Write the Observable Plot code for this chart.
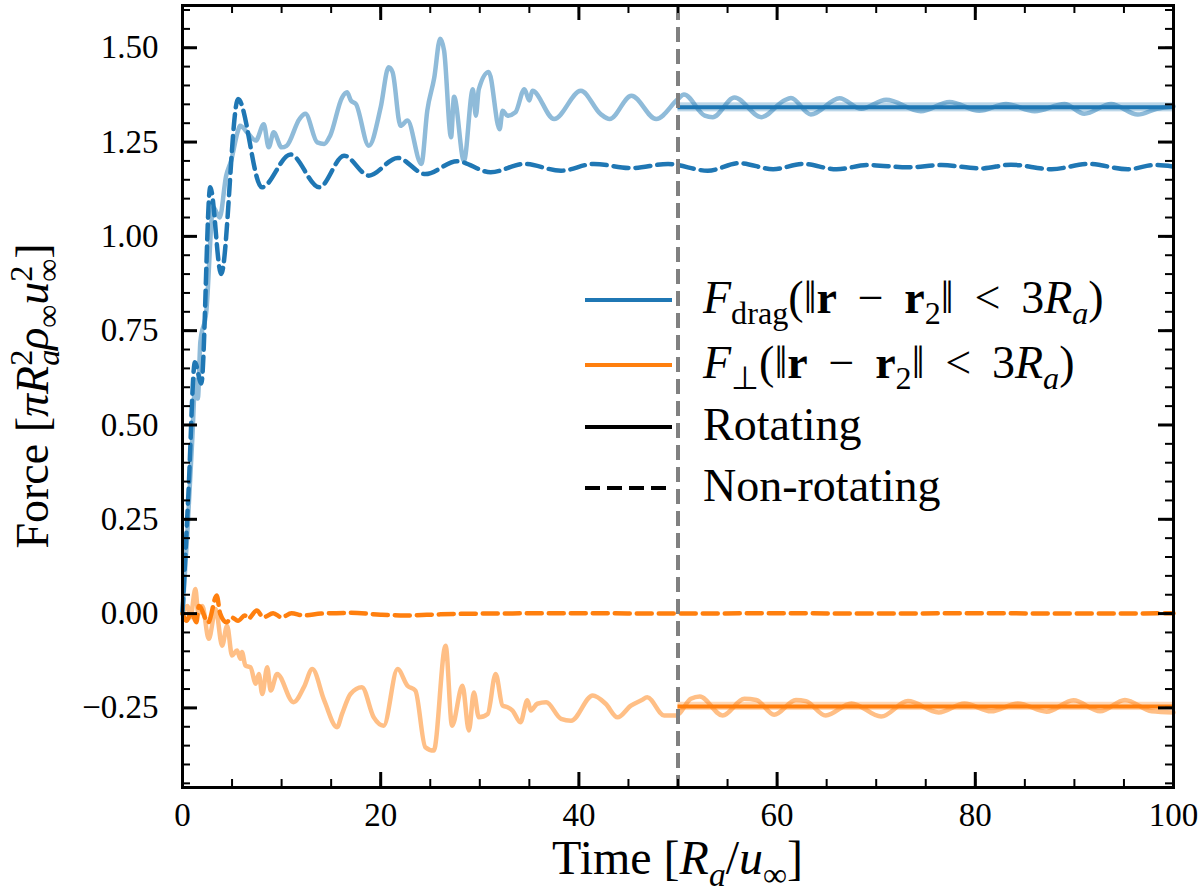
<!DOCTYPE html>
<html><head><meta charset="utf-8">
<script src="https://cdn.jsdelivr.net/npm/d3@7"></script>
<script src="https://cdn.jsdelivr.net/npm/@observablehq/plot@0.6"></script>
<style>body{margin:0;background:#fff;}</style>
</head><body><div id="chart"></div>
<script>
// ---------- data ----------
const xMajor = [0, 20, 40, 60, 80, 100];
const yMajor = [-0.25, 0.00, 0.25, 0.50, 0.75, 1.00, 1.25, 1.50];
const xDomain = [0, 100];
const yDomain = [-0.461, 1.612];
const splitTime = [50];

// Rotating, drag force (light blue solid)
const rotatingDrag = [[0,0],[0.5,0.22],[1.0,0.47],[1.3,0.62],[1.55,0.57],[1.8,0.72],[2.4,0.80],[3.1,1.077],[3.75,1.05],[4.4,1.16],[4.9,1.20],[5.6,1.28],[5.8,1.293],[6.7,1.27],[7.4,1.254],[8.2,1.297],[8.7,1.236],[9.2,1.276],[10.0,1.236],[10.5,1.24],[11.8,1.311],[12.4,1.325],[13.6,1.249],[14.3,1.245],[14.9,1.267],[16.1,1.368],[16.6,1.382],[17.0,1.36],[17.5,1.351],[18.8,1.24],[20.0,1.342],[20.8,1.448],[21.2,1.435],[22.0,1.293],[22.7,1.307],[24.1,1.192],[24.7,1.333],[25.4,1.42],[26.0,1.524],[26.4,1.492],[27.1,1.263],[27.4,1.37],[28.4,1.20],[29.3,1.39],[29.6,1.32],[29.9,1.39],[30.9,1.436],[32.0,1.284],[32.3,1.333],[32.8,1.32],[33.6,1.329],[34.5,1.39],[35.0,1.36],[35.3,1.386],[37.5,1.311],[40.2,1.386],[42.2,1.324],[43.1,1.311],[45.3,1.373],[47.8,1.311],[50.0,1.364],[50.6,1.376],[52.7,1.32],[53.5,1.316],[55.7,1.368],[58.4,1.316],[60.7,1.36],[61.4,1.367],[63.4,1.323],[66.3,1.366],[68.5,1.338],[71.0,1.362],[74.5,1.332],[77.4,1.356],[80.4,1.333],[83.1,1.351],[86.0,1.332],[89.0,1.351],[91.0,1.325],[93.7,1.351],[96.4,1.323],[98.3,1.338],[100,1.345]];

// Non-rotating, drag force (dark blue dashed)
const nonRotatingDrag = [[0,0],[0.6,0.32],[1.25,0.666],[1.9,0.61],[2.8,1.13],[3.9,0.90],[5.6,1.364],[8.0,1.13],[10.9,1.217],[13.8,1.13],[16.3,1.214],[18.8,1.161],[21.7,1.208],[24.5,1.165],[27.7,1.199],[31.1,1.170],[34.5,1.192],[38.2,1.174],[41.5,1.192],[45.3,1.181],[49.0,1.192],[53.0,1.174],[56.2,1.194],[59.6,1.178],[62.6,1.192],[66.0,1.178],[69.2,1.189],[73.2,1.183],[76.6,1.189],[80.6,1.18],[83.6,1.19],[87.7,1.178],[91.4,1.192],[95.4,1.178],[98.1,1.189],[100,1.185]];

// Rotating, perpendicular force (light orange solid)
const rotatingPerp = [[0,0],[0.5,0.02],[0.8,-0.01],[1.3,0.065],[1.6,0],[2.0,0.02],[2.65,-0.067],[3.35,0.012],[4.0,-0.085],[4.5,-0.032],[5.0,-0.111],[5.5,-0.098],[5.85,-0.12],[6.0,-0.102],[6.35,-0.138],[6.85,-0.142],[7.4,-0.186],[7.7,-0.16],[8.05,-0.213],[8.55,-0.142],[8.9,-0.204],[9.55,-0.16],[11.2,-0.235],[12.25,-0.195],[13.1,-0.147],[14.3,-0.23],[15.6,-0.301],[16.1,-0.266],[16.95,-0.213],[18.1,-0.195],[19.3,-0.275],[20.3,-0.297],[21.7,-0.147],[22.7,-0.191],[23.5,-0.204],[24.5,-0.354],[25.35,-0.363],[26.55,-0.085],[27.2,-0.297],[28.25,-0.191],[28.9,-0.31],[29.4,-0.209],[29.9,-0.275],[30.8,-0.266],[31.6,-0.16],[32.3,-0.244],[32.8,-0.248],[33.3,-0.257],[34.1,-0.288],[34.8,-0.23],[35.15,-0.257],[35.8,-0.239],[36.7,-0.235],[38.2,-0.279],[39.2,-0.284],[41.4,-0.217],[42.7,-0.239],[43.9,-0.275],[45.25,-0.244],[46.3,-0.23],[46.9,-0.222],[48.6,-0.27],[49.8,-0.27],[51.3,-0.226],[52.2,-0.22],[54.5,-0.27],[56.7,-0.226],[57.9,-0.229],[59.7,-0.268],[61.9,-0.229],[62.9,-0.232],[64.9,-0.27],[67.5,-0.238],[70.5,-0.273],[73.2,-0.232],[76.3,-0.262],[78.9,-0.238],[81.6,-0.259],[84.3,-0.238],[87.2,-0.26],[89.9,-0.23],[92.6,-0.259],[95.1,-0.229],[97.8,-0.259],[100,-0.262]];

// Non-rotating, perpendicular force (orange dashed)
const nonRotatingPerp = [[0,0],[0.4,-0.019],[0.9,0.003],[1.4,-0.023],[1.65,0.02],[2.6,-0.023],[3.45,0.048],[3.8,0],[4.45,-0.023],[4.95,-0.01],[5.6,-0.019],[6.3,-0.005],[6.6,-0.014],[7.5,0.008],[8.15,-0.01],[9.15,0.001],[10.0,-0.01],[11.0,0.001],[12.2,-0.005],[14,0.0],[17,0.002],[20,-0.003],[22.5,-0.005],[26,-0.002],[30,0],[40,0.001],[50,0],[60,0.001],[70,0],[80,0.001],[90,0],[100,0.001]];

// Rotating averages after t = 50 (mean +/- spread)
const rotatingMeans = [
  {series: "drag", t0: 50, t1: 100, mean: 1.342, sd: 0.012},
  {series: "perp", t0: 50, t1: 100, mean: -0.246, sd: 0.011}
];

// ---------- styling ----------
const BLUE = "#1f77b4", LBLUE = "#8fbbd9", ORANGE = "#ff7f0e", LORANGE = "#ffbf86", GREY = "#808080";
const FONT = "'Liberation Serif', 'Times New Roman', serif";
const W = 1200, H = 894, mL = 182, mR = 27, mT = 5, mB = 107;
const plotW = W - mL - mR, plotH = H - mT - mB;
const xMinor = d3.range(0, 101, 5);
const yMinor = d3.range(-45, 161, 5).map(d => d / 100);
const obj = a => a.map(([t, v]) => ({t, v}));
const meanColor = {drag: BLUE, perp: ORANGE};
const DASH = "15,7";

const chart = Plot.plot({
  width: W, height: H,
  marginLeft: mL, marginRight: mR, marginTop: mT, marginBottom: mB,
  style: {fontFamily: FONT, fontSize: "33px", background: "white", color: "black", overflow: "visible"},
  x: {domain: xDomain, axis: null},
  y: {domain: yDomain, axis: null},
  marks: [
    Plot.line(obj(rotatingDrag), {x: "t", y: "v", stroke: LBLUE, strokeWidth: 4.5, curve: "monotone-x"}),
    Plot.line(obj(rotatingPerp), {x: "t", y: "v", stroke: LORANGE, strokeWidth: 4.5, curve: "monotone-x"}),
    Plot.line(obj(nonRotatingDrag), {x: "t", y: "v", stroke: BLUE, strokeWidth: 4.5, strokeDasharray: DASH, curve: "monotone-x"}),
    Plot.line(obj(nonRotatingPerp), {x: "t", y: "v", stroke: ORANGE, strokeWidth: 4.5, strokeDasharray: DASH, curve: "monotone-x"}),
    Plot.rect(rotatingMeans, {x1: "t0", x2: "t1", y1: d => d.mean - d.sd, y2: d => d.mean + d.sd, fill: d => meanColor[d.series], fillOpacity: 0.3}),
    Plot.ruleY(rotatingMeans, {y: "mean", x1: "t0", x2: "t1", stroke: d => meanColor[d.series], strokeWidth: 4}),
    Plot.ruleX(splitTime, {x: d => d, stroke: GREY, strokeWidth: 4, strokeDasharray: DASH}),
    // inward ticks on all four sides
    Plot.tickX(xMinor, {x: d => d, insetTop: plotH - 8, stroke: "black", strokeWidth: 2}),
    Plot.tickX(xMinor, {x: d => d, insetBottom: plotH - 8, stroke: "black", strokeWidth: 2}),
    Plot.tickY(yMinor, {y: d => d, insetRight: plotW - 8, stroke: "black", strokeWidth: 2}),
    Plot.tickY(yMinor, {y: d => d, insetLeft: plotW - 8, stroke: "black", strokeWidth: 2}),
    Plot.tickX(xMajor, {x: d => d, insetTop: plotH - 15, stroke: "black", strokeWidth: 3}),
    Plot.tickX(xMajor, {x: d => d, insetBottom: plotH - 15, stroke: "black", strokeWidth: 3}),
    Plot.tickY(yMajor, {y: d => d, insetRight: plotW - 15, stroke: "black", strokeWidth: 3}),
    Plot.tickY(yMajor, {y: d => d, insetLeft: plotW - 15, stroke: "black", strokeWidth: 3}),
    Plot.axisX(xMajor, {tickSize: 0, tickPadding: 15, tickFormat: d => String(d), fontSize: 33}),
    Plot.axisY(yMajor, {tickSize: 0, tickPadding: 24, tickFormat: d3.format(".2f"), fontSize: 33}),
    Plot.frame({stroke: "black", strokeWidth: 3})
  ]
});
document.getElementById("chart").appendChild(chart);

// ---------- rich text (axis labels and legend) ----------
const svg = d3.select(chart);
function rich(sel, parts, size) {
  let cur = 0;
  for (const p of parts) {
    const small = p.sub || p.sup;
    const target = p.sub ? 0.24 * size : p.sup ? -0.34 * size : 0;
    const ts = sel.append("tspan").text(p.t);
    if (target !== cur) ts.attr("dy", target - cur);
    cur = target;
    if (small) ts.attr("font-size", size * 0.7);
    if (p.back) ts.attr("dx", -p.back * size * 0.7);
    if (p.it) ts.attr("font-style", "italic");
    if (p.b) ts.attr("font-weight", "bold");
  }
}
const LS = 46;
const SP = "\u2009";   // thin space used for math-style operator spacing
// x label
const xl = svg.append("text").attr("font-family", FONT).attr("font-size", 48)
  .attr("text-anchor", "middle").attr("x", mL + plotW / 2).attr("y", 874).style("white-space", "pre");
rich(xl, [{t: "Time ["}, {t: "R", it: 1}, {t: "a", sub: 1, it: 1}, {t: "/"}, {t: "u", it: 1}, {t: "∞", sub: 1}, {t: "]"}], 48);
// y label
const yl = svg.append("text").attr("font-family", FONT).attr("font-size", LS)
  .attr("text-anchor", "middle").attr("transform", `translate(48,${mT + plotH / 2}) rotate(-90)`).style("white-space", "pre");
rich(yl, [{t: "Force ["}, {t: "πR", it: 1}, {t: "2", sup: 1}, {t: "a", sub: 1, it: 1, back: 0.5}, {t: "ρ", it: 1}, {t: "∞", sub: 1}, {t: "u", it: 1}, {t: "2", sup: 1}, {t: "∞", sub: 1, back: 0.5}, {t: "]"}], LS);

// legend
const legend = [
  {y: 300, color: BLUE, dash: null, parts: [{t: "F", it: 1}, {t: "drag", sub: 1}, {t: "(‖"}, {t: "r", b: 1}, {t: SP + " − " + SP}, {t: "r", b: 1}, {t: "2", sub: 1}, {t: "‖" + SP + " < " + SP + "3"}, {t: "R", it: 1}, {t: "a", sub: 1, it: 1}, {t: ")"}]},
  {y: 365, color: ORANGE, dash: null, parts: [{t: "F", it: 1}, {t: "⊥", sub: 1}, {t: "(‖"}, {t: "r", b: 1}, {t: SP + " − " + SP}, {t: "r", b: 1}, {t: "2", sub: 1}, {t: "‖" + SP + " < " + SP + "3"}, {t: "R", it: 1}, {t: "a", sub: 1, it: 1}, {t: ")"}]},
  {y: 427, color: "black", dash: null, parts: [{t: "Rotating"}]},
  {y: 488, color: "black", dash: DASH, parts: [{t: "Non-rotating"}]}
];
const lg = svg.append("g");
for (const e of legend) {
  const ln = lg.append("line").attr("x1", 585).attr("x2", 672).attr("y1", e.y).attr("y2", e.y)
    .attr("stroke", e.color).attr("stroke-width", 4);
  if (e.dash) ln.attr("stroke-dasharray", e.dash);
  const tx = lg.append("text").attr("font-family", FONT).attr("font-size", LS)
    .attr("text-anchor", "start")
    .attr("x", 703).attr("y", e.y + 13).style("white-space", "pre");
  rich(tx, e.parts, LS);
}
</script></body></html>
